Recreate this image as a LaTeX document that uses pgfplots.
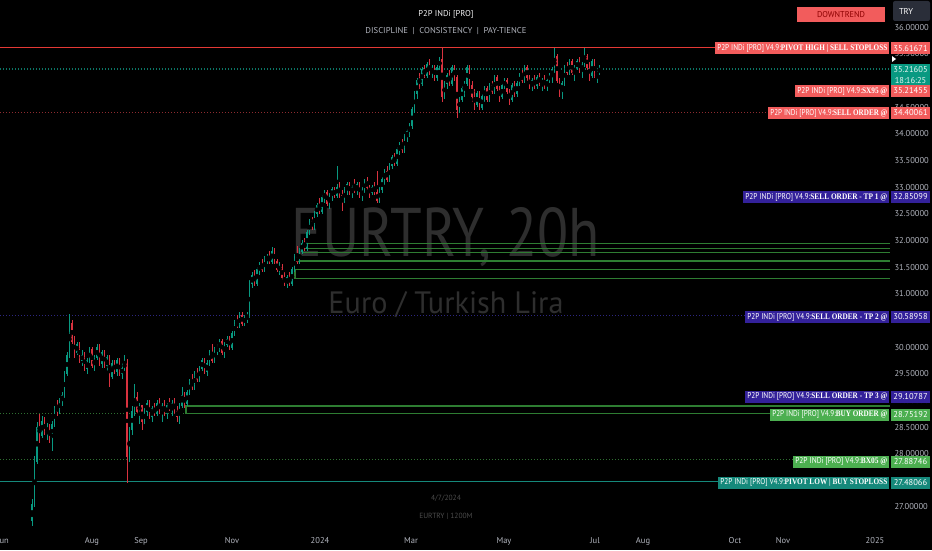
\documentclass[border=0pt]{standalone}
\usepackage{pgfplots}
\usepackage{pgfplotstable}
\usepackage{graphicx}
\usepackage{fontspec}
\pgfplotsset{compat=1.18}
\setmainfont{PT Sans}
\newfontfamily\tagserif{Liberation Serif}

\definecolor{cgreen}{HTML}{089981}
\definecolor{cred}{HTML}{D9323F}
\definecolor{tagred}{HTML}{F25C5C}
\definecolor{linered}{HTML}{E53935}
\definecolor{tagpurple}{HTML}{33219A}
\definecolor{taggreen}{HTML}{4CAF50}
\definecolor{tagteal}{HTML}{15897B}
\definecolor{obgreen}{HTML}{2E7D32}
\definecolor{dotred}{HTML}{8E2B30}
\definecolor{dotblue}{HTML}{2D2680}
\definecolor{dotgreen}{HTML}{2E7031}
\definecolor{dotteal}{HTML}{0B7464}
\definecolor{tickgray}{HTML}{B2B5BE}
\definecolor{wm}{HTML}{2E2E2E}
\definecolor{trygray}{HTML}{2A2E39}

\newcommand{\tickfont}{\fontsize{8.5pt}{10pt}\selectfont}
\newcommand{\tagfont}{\fontsize{8.5pt}{10pt}\selectfont}
\newcommand{\tagb}[1]{{\tagserif\bfseries #1}}
% label box on the right: colour, y (px from top), left x, text, price
\newcommand{\ptag}[5]{%
  \fill[#1] (#3,#2-6) rectangle (889,#2+6);
  \node[anchor=east, inner sep=0pt, text=white] at (887.5,#2)
    {\resizebox{\dimexpr 885pt-#3pt\relax}{\height}{\tagfont #4}};
  \fill[#1] (891,#2-6) rectangle (930,#2+6);
  \node[text=white, inner sep=0pt] at (910.5,#2) {\tickfont #5};}

% EURTRY 20h candles: x (px), open, high, low, close
\pgfplotstableread{
x o h l c
32 26.75 27.15 26.55 27.05
34.5 27.05 27.95 27.0 27.85
37 27.85 28.6 27.8 28.5
39.5 28.5 28.75 28.2 28.35
42 28.35 28.7 28.3 28.6
44.5 28.6 28.68 28.35 28.42
47 28.42 28.58 28.25 28.5
49.5 28.5 28.55 28.2 28.3
52 28.3 28.62 28.05 28.55
54.5 28.55 28.9 28.5 28.85
57 28.85 29.0 28.7 28.8
59.5 28.8 29.05 28.75 29.0
62 29.0 29.15 28.9 29.1
64.5 29.1 29.55 29.05 29.5
67 29.5 29.9 29.45 29.85
69.5 29.85 30.62 29.8 30.45
72 30.45 30.5 30.05 30.1
74.5 30.1 30.2 29.8 29.9
77 29.9 30.1 29.85 30.05
79.5 30.05 30.1 29.7 29.75
82 29.75 29.95 29.65 29.85
84.5 29.85 29.9 29.55 29.6
87 29.6 29.8 29.5 29.75
89.5 29.75 30.0 29.7 29.95
92 29.95 30.0 29.6 29.65
94.5 29.65 29.85 29.55 29.8
97 29.8 30.05 29.75 30.0
99.5 30.0 30.05 29.65 29.7
102 29.7 29.95 29.6 29.9
104.5 29.9 29.95 29.6 29.65
107 29.65 29.85 29.55 29.8
109.5 29.8 29.85 29.25 29.45
112 29.45 29.75 29.4 29.7
114.5 29.7 29.75 29.5 29.55
117 29.55 29.8 29.45 29.75
119.5 29.75 29.8 29.45 29.5
122 29.5 29.7 29.4 29.6
124.5 29.6 29.85 29.55 29.7
127 29.7 29.78 27.45 27.95
129.5 27.95 28.5 27.85 28.45
132 28.45 28.9 28.35 28.8
134.5 28.8 29.3 28.7 29.05
137 29.05 29.15 28.75 28.8
139.5 28.8 28.95 28.55 28.9
142 28.9 28.92 28.45 28.6
144.5 28.6 28.85 28.55 28.8
147 28.8 29.0 28.7 28.95
149.5 28.95 29.0 28.65 28.7
152 28.7 28.9 28.6 28.85
154.5 28.85 28.95 28.7 28.75
157 28.75 29.0 28.7 28.95
159.5 28.95 29.05 28.75 28.8
162 28.8 28.95 28.6 28.9
164.5 28.9 29.0 28.7 28.75
167 28.75 28.95 28.65 28.9
169.5 28.9 29.05 28.8 28.85
172 28.85 29.0 28.7 28.95
174.5 28.95 29.05 28.75 28.8
177 28.8 28.9 28.6 28.7
179.5 28.7 28.95 28.55 28.9
182 28.9 29.25 28.85 29.1
184.5 29.1 29.15 28.85 28.95
187 28.95 29.2 28.9 29.15
189.5 29.15 29.4 29.1 29.35
192 29.35 29.5 29.2 29.25
194.5 29.25 29.55 29.2 29.5
197 29.5 29.6 29.35 29.4
199.5 29.4 29.65 29.35 29.6
202 29.6 29.8 29.55 29.75
204.5 29.75 29.8 29.5 29.55
207 29.55 29.75 29.45 29.7
209.5 29.7 29.95 29.65 29.9
212 29.9 30.05 29.7 29.75
214.5 29.75 30.0 29.7 29.95
217 29.95 30.05 29.85 30.0
219.5 30.0 30.15 29.9 30.1
222 30.1 30.15 29.85 29.9
224.5 29.9 30.1 29.8 30.05
227 30.05 30.2 30.0 30.15
229.5 30.15 30.2 29.95 30.0
232 30.0 30.3 29.95 30.25
234.5 30.25 30.5 30.2 30.45
237 30.45 30.6 30.35 30.4
239.5 30.4 30.65 30.35 30.6
242 30.6 30.65 30.4 30.45
244.5 30.45 30.6 30.4 30.55
247 30.55 30.65 30.45 30.6
249.5 30.6 31.25 30.55 31.2
252 31.2 31.4 31.1 31.35
254.5 31.35 31.45 31.15 31.2
257 31.2 31.5 31.15 31.45
259.5 31.45 31.6 31.35 31.55
262 31.55 31.65 31.4 31.45
264.5 31.45 31.7 31.4 31.65
267 31.65 31.75 31.55 31.7
269.5 31.7 31.8 31.55 31.6
272 31.6 31.88 31.55 31.8
274.5 31.8 31.85 31.55 31.6
277 31.6 31.65 31.4 31.45
279.5 31.45 31.6 31.35 31.5
282 31.5 31.55 31.25 31.3
284.5 31.3 31.4 31.15 31.2
287 31.2 31.35 31.1 31.3
289.5 31.3 31.4 31.15 31.2
292 31.2 31.5 31.15 31.45
294.5 31.45 31.75 31.4 31.7
297 31.7 31.9 31.55 31.6
299.5 31.6 31.85 31.55 31.8
302 31.8 32.0 31.75 31.95
304.5 31.95 32.05 31.8 31.85
307 31.85 32.2 31.8 32.15
309.5 32.15 32.4 32.1 32.35
312 32.35 32.45 32.2 32.25
314.5 32.25 32.55 32.2 32.5
317 32.5 32.7 32.45 32.65
319.5 32.65 32.8 32.5 32.55
322 32.55 32.85 32.5 32.8
324.5 32.8 32.95 32.7 32.9
327 32.9 32.95 32.65 32.7
329.5 32.7 32.9 32.6 32.85
332 32.85 33.0 32.75 32.95
334.5 32.95 33.0 32.8 32.85
337 32.85 33.4 32.8 33.0
339.5 33.0 33.1 32.8 32.85
342 32.85 32.95 32.55 32.75
344.5 32.75 33.0 32.7 32.95
347 32.95 33.1 32.85 33.05
349.5 33.05 33.1 32.85 32.9
352 32.9 33.05 32.8 33.0
354.5 33.0 33.15 32.9 32.95
357 32.95 33.1 32.85 33.05
359.5 33.05 33.1 32.8 32.85
362 32.85 33.0 32.75 32.95
364.5 32.95 33.15 32.9 33.1
367 33.1 33.2 32.95 33.0
369.5 33.0 33.05 32.8 32.9
372 32.9 33.05 32.85 33.0
374.5 33.0 33.1 32.85 32.9
377 32.9 33.3 32.7 32.75
379.5 32.75 33.0 32.7 32.95
382 32.95 33.2 32.9 33.15
384.5 33.15 33.35 33.05 33.3
387 33.3 33.4 33.1 33.15
389.5 33.15 33.45 33.1 33.4
392 33.4 33.6 33.35 33.55
394.5 33.55 33.65 33.4 33.45
397 33.45 33.75 33.4 33.7
399.5 33.7 33.85 33.6 33.8
402 33.8 33.9 33.65 33.7
404.5 33.7 34.0 33.65 33.95
407 33.95 34.1 33.85 34.05
409.5 34.05 34.2 33.95 34.15
412 34.15 34.5 34.1 34.45
414.5 34.45 34.8 34.4 34.75
417 34.75 35.05 34.65 35.0
419.5 35.0 35.15 34.85 34.95
422 34.95 35.25 34.9 35.2
424.5 35.2 35.3 35.05 35.1
427 35.1 35.35 35.05 35.3
429.5 35.3 35.4 35.1 35.15
432 35.15 35.3 35.05 35.25
434.5 35.25 35.3 35.0 35.05
437 35.05 35.3 35.0 35.25
439.5 35.25 35.45 35.2 35.4
442 35.4 35.62 34.6 34.7
444.5 34.7 35.0 34.65 34.95
447 34.95 35.15 34.85 35.1
449.5 35.1 35.2 34.9 34.95
452 34.95 35.3 34.9 35.25
454.5 35.25 35.3 35.0 35.05
457 35.05 35.1 34.3 34.45
459.5 34.45 34.7 34.4 34.65
462 34.65 34.9 34.6 34.85
464.5 34.85 35.0 34.7 34.95
467 34.95 35.3 34.9 35.25
469.5 35.25 35.3 34.85 34.9
472 34.9 35.0 34.6 34.7
474.5 34.7 34.85 34.45 34.55
477 34.55 34.8 34.5 34.75
479.5 34.75 34.8 34.45 34.5
482 34.5 34.75 34.45 34.7
484.5 34.7 34.9 34.6 34.85
487 34.85 34.9 34.6 34.65
489.5 34.65 34.95 34.6 34.9
492 34.9 35.0 34.75 34.8
494.5 34.8 35.1 34.75 35.05
497 35.05 35.1 34.8 34.85
499.5 34.85 34.9 34.6 34.7
502 34.7 34.95 34.65 34.9
504.5 34.9 35.05 34.85 35.0
507 35.0 35.05 34.75 34.8
509.5 34.8 34.85 34.55 34.65
512 34.65 34.95 34.6 34.9
514.5 34.9 35.0 34.7 34.75
517 34.75 35.0 34.7 34.95
519.5 34.95 35.15 34.9 35.1
522 35.1 35.2 34.95 35.0
524.5 35.0 35.3 34.95 35.25
527 35.25 35.3 35.0 35.05
529.5 35.05 35.1 34.85 34.9
532 34.9 35.05 34.8 35.0
534.5 35.0 35.1 34.85 34.9
537 34.9 35.1 34.85 35.05
539.5 35.05 35.15 34.9 34.95
542 34.95 35.05 34.8 35.0
544.5 35.0 35.1 34.85 34.9
547 34.9 35.05 34.8 35.0
549.5 35.0 35.15 34.95 35.1
552 35.1 35.25 34.95 35.2
554.5 35.2 35.62 35.15 35.45
557 35.45 35.5 34.95 35.0
559.5 35.0 35.05 34.7 34.8
562 34.8 35.0 34.65 34.95
564.5 34.95 35.3 34.9 35.25
567 35.25 35.35 35.1 35.15
569.5 35.15 35.4 35.1 35.35
572 35.35 35.4 35.1 35.15
574.5 35.15 35.3 35.0 35.25
577 35.25 35.4 35.2 35.35
579.5 35.35 35.45 35.15 35.2
582 35.2 35.35 35.05 35.3
584.5 35.3 35.62 35.25 35.45
587 35.45 35.5 35.2 35.25
589.5 35.25 35.35 35.0 35.1
592 35.1 35.4 35.05 35.35
594.5 35.35 35.4 35.05 35.1
597 35.1 35.2 34.95 35.15
599.5 35.15 35.3 35.1 35.22
}\candles

\begin{document}
\begin{tikzpicture}[x=1pt,y=1pt]
\fill[black] (0,0) rectangle (932,550);

% watermark and bottom notes (pixel positions, y from top)
\begin{scope}[yshift=550pt, y=-1pt]
  \node[anchor=base, inner sep=0pt, text=wm] at (446,257)
    {\resizebox{308pt}{49pt}{EURTRY, 20h}};
  \node[anchor=base, inner sep=0pt, text=wm] at (446,313)
    {\resizebox{235pt}{22pt}{Euro / Turkish Lira}};
  \node[text=white!30!black, font=\fontsize{7.5pt}{9pt}\selectfont] at (446,498) {4/7/2024};
  \node[text=white!30!black, font=\fontsize{7.5pt}{9pt}\selectfont] at (446,516) {EURTRY | 1200M};
\end{scope}

\begin{axis}[
  at={(0pt,25pt)}, anchor=south west,
  width=890pt, height=525pt, scale only axis,
  xmin=0, xmax=890, ymin=26.662, ymax=36.512,
  axis line style={draw=none}, tick style={draw=none},
  ytick={27,28,28.5,29,29.5,30,31,31.5,32,32.5,33,33.5,34,34.5,35.5,36},
  yticklabel pos=right,
  yticklabel style={anchor=west, xshift=1pt, text=tickgray, font=\tickfont},
  xtick={3,92,141,232,320,411,504,595,643,735,783,875},
  xticklabels={Jun,Aug,Sep,Nov,2024,Mar,May,Jul,Aug,Oct,Nov,2025},
  xticklabel style={yshift=-9pt, text=tickgray, font=\tickfont},
  /pgf/number format/.cd, fixed, fixed zerofill, precision=5, 1000 sep={},
  assume math mode=true,
]
% levels
\addplot[draw=linered, line width=1.4pt] coordinates {(0,35.61671) (715,35.61671)};
\addplot[draw=dotteal, dash pattern=on 1.2pt off 1.8pt, line width=1.2pt] coordinates {(0,35.21605) (890,35.21605)};
\addplot[draw=dotred, dash pattern=on 1.2pt off 1.8pt, line width=1.2pt] coordinates {(0,34.40061) (768,34.40061)};
\addplot[draw=dotblue, dash pattern=on 1.2pt off 1.8pt, line width=1.2pt] coordinates {(0,30.58958) (745,30.58958)};
\addplot[draw=dotgreen, dash pattern=on 1.2pt off 1.8pt, line width=1.2pt] coordinates {(0,28.75192) (186,28.75192)};
\addplot[draw=dotgreen, dash pattern=on 1.2pt off 1.8pt, line width=1.2pt] coordinates {(0,27.88746) (793,27.88746)};
\addplot[draw=tagteal, line width=1.6pt] coordinates {(0,27.48066) (718,27.48066)};
% order blocks
\addplot[draw=obgreen, line width=1.3pt] coordinates {(770,28.75192) (186,28.75192) (186,28.895) (890,28.895)};
\addplot[draw=obgreen, line width=1.3pt] coordinates {(890,31.944) (307,31.944)};
\addplot[draw=obgreen, line width=1.3pt] coordinates {(890,31.850) (305,31.850)};
\addplot[draw=obgreen, line width=1.3pt] coordinates {(890,31.775) (302,31.775)};
\addplot[draw=obgreen, line width=1.3pt] coordinates {(890,31.615) (298,31.615)};
\addplot[draw=obgreen, line width=1.3pt] coordinates {(890,31.462) (295,31.462) (295,31.281) (890,31.281)};
% candles: wicks
\addplot[only marks, mark=none, restrict expr to domain={\thisrow{c}-\thisrow{o}}{0:100},
  error bars/.cd, y dir=both, y explicit, error mark=none,
  error bar style={draw=cgreen, line width=0.7pt}]
  table[x=x, y expr=(\thisrow{h}+\thisrow{l})/2, y error expr=(\thisrow{h}-\thisrow{l})/2] {\candles};
\addplot[only marks, mark=none, restrict expr to domain={\thisrow{c}-\thisrow{o}}{-100:-0.0001},
  error bars/.cd, y dir=both, y explicit, error mark=none,
  error bar style={draw=cred, line width=0.7pt}]
  table[x=x, y expr=(\thisrow{h}+\thisrow{l})/2, y error expr=(\thisrow{h}-\thisrow{l})/2] {\candles};
% candles: bodies
\addplot[only marks, mark=none, restrict expr to domain={\thisrow{c}-\thisrow{o}}{0:100},
  error bars/.cd, y dir=both, y explicit, error mark=none,
  error bar style={draw=cgreen, line width=1.7pt}]
  table[x=x, y expr=(\thisrow{o}+\thisrow{c})/2, y error expr=abs(\thisrow{c}-\thisrow{o})/2+0.01] {\candles};
\addplot[only marks, mark=none, restrict expr to domain={\thisrow{c}-\thisrow{o}}{-100:-0.0001},
  error bars/.cd, y dir=both, y explicit, error mark=none,
  error bar style={draw=cred, line width=1.7pt}]
  table[x=x, y expr=(\thisrow{o}+\thisrow{c})/2, y error expr=abs(\thisrow{c}-\thisrow{o})/2+0.01] {\candles};
\end{axis}

% labels over the price scale
\begin{scope}[yshift=550pt, y=-1pt]
  \ptag{tagred}{48.2}{715}{P2P INDi [PRO] V4.9:\tagb{PIVOT HIGH | SELL STOPLOSS}}{35.61671}
  \fill[white] (892,56) -- (896,59) -- (892,62) -- cycle;
  \fill[cgreen] (891,64) rectangle (930,86);
  \node[text=white!90!cgreen, inner sep=0pt] at (910.5,70) {\tickfont 35.21605};
  \node[text=white!90!cgreen, inner sep=0pt] at (910.5,80.5) {\tickfont 18:16:25};
  \ptag{tagred}{91}{795}{P2P INDi [PRO] V4.9:\tagb{SX95 @}}{35.21455}
  \ptag{tagred}{113}{768}{P2P INDi [PRO] V4.9:\tagb{SELL ORDER @}}{34.40061}
  \ptag{tagpurple}{197}{743}{P2P INDi [PRO] V4.9:\tagb{SELL ORDER - TP 1 @}}{32.85099}
  \ptag{tagpurple}{317}{745}{P2P INDi [PRO] V4.9:\tagb{SELL ORDER - TP 2 @}}{30.58958}
  \ptag{tagpurple}{396.5}{745}{P2P INDi [PRO] V4.9:\tagb{SELL ORDER - TP 3 @}}{29.10787}
  \ptag{taggreen}{414.5}{770}{P2P INDi [PRO] V4.9:\tagb{BUY ORDER @}}{28.75192}
  \ptag{taggreen}{461.5}{793}{P2P INDi [PRO] V4.9:\tagb{BX05 @}}{27.88746}
  \ptag{tagteal}{482.5}{718}{P2P INDi [PRO] V4.9:\tagb{PIVOT LOW | BUY STOPLOSS}}{27.48066}
  % header
  \node[text=white!85!tickgray, font=\tickfont] at (446,14) {P2P INDi [PRO]};
  \node[text=tickgray, inner sep=0pt] at (446,31)
    {\resizebox{161pt}{\height}{\tickfont DISCIPLINE \ | \ CONSISTENCY \ | \ PAY-TIENCE}};
  \fill[tagred] (797,7) rectangle (885,22);
  \node[text=red!55!black, inner sep=0pt] at (841,14.5)
    {\resizebox{48pt}{\height}{\tickfont DOWNTREND}};
  \fill[trygray, rounded corners=2pt] (893,1) rectangle (930,21);
  \node[text=white, font=\tickfont] at (906,11) {TRY};
\end{scope}

\pgfresetboundingbox
\path[use as bounding box] (0,0) rectangle (932,550);
\end{tikzpicture}
\end{document}
